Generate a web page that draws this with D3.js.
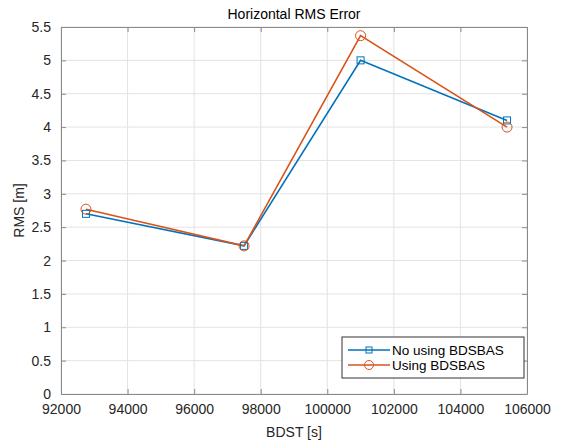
<!DOCTYPE html>
<html><head><meta charset="utf-8">
<script src="https://cdn.jsdelivr.net/npm/d3@7"></script>
<style>body{margin:0;background:#fff;} svg{display:block;font-family:"Liberation Sans",Arial,sans-serif;}</style>
</head><body><svg id="c" width="561" height="445"></svg>
<script>
const bdst = [92750, 97500, 101000, 105400];
const noUsing = [2.70, 2.22, 5.00, 4.10];
const usingB = [2.77, 2.22, 5.37, 4.00];
const xTicks = [92000, 94000, 96000, 98000, 100000, 102000, 104000, 106000];
const yTicks = [0, 0.5, 1, 1.5, 2, 2.5, 3, 3.5, 4, 4.5, 5, 5.5];
const seriesNames = ["No using BDSBAS", "Using BDSBAS"];

const svg = d3.select("#c");
const L = 61, R = 527, T = 27, B = 394;
const x = d3.scaleLinear().domain([92000, 106000]).range([L, R]);
const y = d3.scaleLinear().domain([0, 5.5]).range([B, T]);
const blue = "#0072BD", orange = "#D95319", axc = "#262626";

// grid
const g = svg.append("g");
g.selectAll(".gx").data(xTicks).enter().append("line")
  .attr("x1", d => x(d)).attr("x2", d => x(d)).attr("y1", T).attr("y2", B)
  .attr("stroke", "#e3e3e3").attr("stroke-width", 1);
g.selectAll(".gy").data(yTicks).enter().append("line")
  .attr("x1", L).attr("x2", R).attr("y1", d => y(d)).attr("y2", d => y(d))
  .attr("stroke", "#e3e3e3").attr("stroke-width", 1);

// axes
const xa = svg.append("g").attr("transform", `translate(0,${B})`)
  .call(d3.axisBottom(x).tickValues(xTicks).tickFormat(d => d).tickSizeInner(-5).tickSizeOuter(0).tickPadding(10));
const xt = svg.append("g").attr("transform", `translate(0,${T})`)
  .call(d3.axisTop(x).tickValues(xTicks).tickFormat("").tickSizeInner(-5).tickSizeOuter(0));
const ya = svg.append("g").attr("transform", `translate(${L},0)`)
  .call(d3.axisLeft(y).tickValues(yTicks).tickFormat(d => d).tickSizeInner(-5).tickSizeOuter(0).tickPadding(10));
const yr = svg.append("g").attr("transform", `translate(${R},0)`)
  .call(d3.axisRight(y).tickValues(yTicks).tickFormat("").tickSizeInner(-5).tickSizeOuter(0));
[xa, xt, ya, yr].forEach(a => {
  a.select(".domain").attr("stroke", "#8a8a8a");
  a.selectAll(".tick line").attr("stroke", "#8a8a8a");
  a.selectAll(".tick text").attr("fill", axc).attr("font-size", "14px");
});

// lines
const line = d3.line().x((d, i) => x(bdst[i])).y(d => y(d));
svg.append("path").datum(noUsing).attr("d", line).attr("fill", "none").attr("stroke", blue).attr("stroke-width", 1.6);
svg.append("path").datum(usingB).attr("d", line).attr("fill", "none").attr("stroke", orange).attr("stroke-width", 1.6);
svg.selectAll(".sq").data(noUsing).enter().append("rect")
  .attr("x", (d, i) => x(bdst[i]) - 3.5).attr("y", d => y(d) - 3.5).attr("width", 7).attr("height", 7)
  .attr("fill", "none").attr("stroke", blue).attr("stroke-width", 1);
svg.selectAll(".ci").data(usingB).enter().append("circle")
  .attr("cx", (d, i) => x(bdst[i])).attr("cy", d => y(d)).attr("r", 5)
  .attr("fill", "none").attr("stroke", orange).attr("stroke-width", 1);

// title and labels
svg.append("text").attr("x", (L + R) / 2).attr("y", 19).attr("text-anchor", "middle")
  .attr("font-size", "14px").attr("fill", "#000").text("Horizontal RMS Error");
svg.append("text").attr("x", (L + R) / 2).attr("y", 437).attr("text-anchor", "middle")
  .attr("font-size", "14px").attr("fill", axc).text("BDST [s]");
svg.append("text").attr("transform", `translate(24,${(T + B) / 2}) rotate(-90)`).attr("text-anchor", "middle")
  .attr("font-size", "14px").attr("fill", axc).text("RMS [m]");

// legend
const lg = svg.append("g");
lg.append("rect").attr("x", 342).attr("y", 337).attr("width", 182).attr("height", 41)
  .attr("fill", "#fff").attr("stroke", "#333").attr("stroke-width", 1);
const rows = [350, 365];
[0, 1].forEach(i => {
  const c = i === 0 ? blue : orange;
  lg.append("line").attr("x1", 348).attr("x2", 390).attr("y1", rows[i]).attr("y2", rows[i]).attr("stroke", c).attr("stroke-width", 1.4);
  if (i === 0) lg.append("rect").attr("x", 366).attr("y", rows[i] - 3).attr("width", 6).attr("height", 6).attr("fill", "none").attr("stroke", c);
  else lg.append("circle").attr("cx", 369).attr("cy", rows[i]).attr("r", 4.5).attr("fill", "none").attr("stroke", c);
  lg.append("text").attr("x", 392).attr("y", rows[i] + 4.5).attr("font-size", "13.5px").attr("fill", "#000").text(seriesNames[i]);
});
</script></body></html>
